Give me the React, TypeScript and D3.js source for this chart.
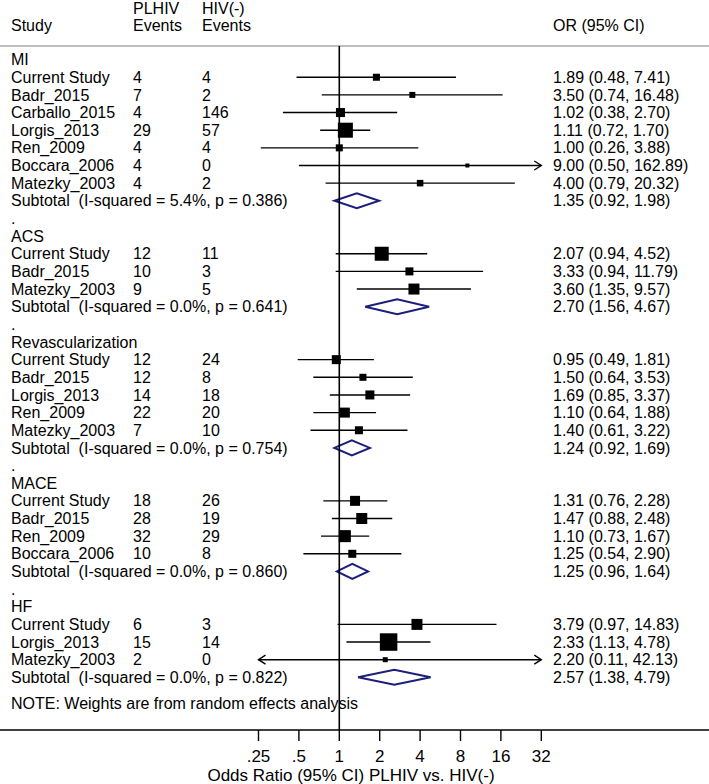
import React from "react";
import * as d3 from "d3";

// ---------- data ----------
const groupNames = ["MI", "ACS", "Revascularization", "MACE", "HF"];
const groupSizes = [7, 3, 5, 4, 3];

const studyNames = [
  "Current Study", "Badr_2015", "Carballo_2015", "Lorgis_2013", "Ren_2009", "Boccara_2006", "Matezky_2003",
  "Current Study", "Badr_2015", "Matezky_2003",
  "Current Study", "Badr_2015", "Lorgis_2013", "Ren_2009", "Matezky_2003",
  "Current Study", "Badr_2015", "Ren_2009", "Boccara_2006",
  "Current Study", "Lorgis_2013", "Matezky_2003",
];
const plhivEvents = [4, 7, 4, 29, 4, 4, 4, 12, 10, 9, 12, 12, 14, 22, 7, 18, 28, 32, 10, 6, 15, 2];
const hivEvents = [4, 2, 146, 57, 4, 0, 2, 11, 3, 5, 24, 8, 18, 20, 10, 26, 19, 29, 8, 3, 14, 0];
const orValues = [1.89, 3.5, 1.02, 1.11, 1.0, 9.0, 4.0, 2.07, 3.33, 3.6, 0.95, 1.5, 1.69, 1.1, 1.4, 1.31, 1.47, 1.1, 1.25, 3.79, 2.33, 2.2];
const ciLower = [0.48, 0.74, 0.38, 0.72, 0.26, 0.5, 0.79, 0.94, 0.94, 1.35, 0.49, 0.64, 0.85, 0.64, 0.61, 0.76, 0.88, 0.73, 0.54, 0.97, 1.13, 0.11];
const ciUpper = [7.41, 16.48, 2.7, 1.7, 3.88, 162.89, 20.32, 4.52, 11.79, 9.57, 1.81, 3.53, 3.37, 1.88, 3.22, 2.28, 2.48, 1.67, 2.9, 14.83, 4.78, 42.13];
const weights = [9.9, 7.2, 16.3, 45.3, 9.9, 3.2, 8.5, 39.4, 12.9, 24.3, 16.3, 9.9, 16.3, 20.1, 12.9, 20.1, 24.3, 29.0, 12.9, 24.3, 61.6, 5.0];

const subI2 = ["5.4%", "0.0%", "0.0%", "0.0%", "0.0%"];
const subP = ["0.386", "0.641", "0.754", "0.860", "0.822"];
const subOr = [1.35, 2.7, 1.24, 1.25, 2.57];
const subLower = [0.92, 1.56, 0.92, 0.96, 1.38];
const subUpper = [1.98, 4.67, 1.69, 1.64, 4.79];

const tickValues = [0.25, 0.5, 1, 2, 4, 8, 16, 32];
const tickLabels = [".25", ".5", "1", "2", "4", "8", "16", "32"];

const axisTitle = "Odds Ratio (95% CI) PLHIV vs. HIV(-)";
const noteText = "NOTE: Weights are from random effects analysis";

// ---------- layout ----------
const W = 709;
const H = 784;
const FONT = "'Liberation Sans', Arial, Helvetica, sans-serif";
const FS = 16;

type Row =
  | { kind: "group"; label: string }
  | { kind: "study"; i: number }
  | { kind: "sub"; g: number }
  | { kind: "dot" };

const rows: Row[] = [];
{
  let k = 0;
  groupNames.forEach((g, gi) => {
    rows.push({ kind: "group", label: g });
    for (let j = 0; j < groupSizes[gi]; j++) rows.push({ kind: "study", i: k++ });
    rows.push({ kind: "sub", g: gi });
    if (gi < groupNames.length - 1) rows.push({ kind: "dot" });
  });
}

const x = d3.scaleLog().base(2).domain([0.25, 32]).range([258.5, 541.3]);
const y = d3.scaleLinear().domain([0, 36]).range([59.6, 695]);
const boxSide = d3.scaleSqrt().domain([0, 100]).range([0, 22.3]);
const fmt = d3.format(".2f");

const colStudy = 11;
const colPl = 133;
const colHiv = 202;
const colOr = 553;
const axisY = 730;
const headerLineY = 46;
const refX = x(1);
const TXT_DY = 5.6;

export default function App() {
  const [xmin, xmax] = x.range();

  return (
    <svg
      width={W}
      height={H}
      style={{ position: "absolute", left: 0, top: 0, background: "#fff" }}
      fontFamily={FONT}
      fontSize={FS}
    >
      <rect x={0} y={0} width={W} height={H} fill="#fff" />
      {/* header */}
      <text x={colStudy} y={31}>Study</text>
      <text x={colPl} y={14}>PLHIV</text>
      <text x={colPl} y={31}>Events</text>
      <text x={colHiv} y={14}>HIV(-)</text>
      <text x={colHiv} y={31}>Events</text>
      <text x={colOr} y={31}>OR (95% CI)</text>
      <line x1={0} x2={W} y1={headerLineY} y2={headerLineY} stroke="#a8a8a8" strokeWidth={1.5} />

      {/* rows */}
      {rows.map((r, ri) => {
        const cy = y(ri);
        if (r.kind === "group")
          return (
            <text key={ri} x={colStudy} y={cy + TXT_DY}>{r.label}</text>
          );
        if (r.kind === "dot")
          return (
            <text key={ri} x={colStudy} y={cy + TXT_DY}>.</text>
          );
        if (r.kind === "sub") {
          const g = r.g;
          const x0 = x(subLower[g]);
          const x1 = x(subUpper[g]);
          const xc = x(subOr[g]);
          const hh = 7.5;
          return (
            <g key={ri}>
              <text x={colStudy} y={cy + TXT_DY} xmlSpace="preserve">
                {`Subtotal  (I-squared = ${subI2[g]}, p = ${subP[g]})`}
              </text>
              <path
                d={`M${x0},${cy} L${xc},${cy - hh} L${x1},${cy} L${xc},${cy + hh} Z`}
                fill="#fff"
                stroke="#1b1f7a"
                strokeWidth={2}
              />
              <text x={colOr} y={cy + TXT_DY}>
                {`${fmt(subOr[g])} (${fmt(subLower[g])}, ${fmt(subUpper[g])})`}
              </text>
            </g>
          );
        }
        const i = r.i;
        const lo = ciLower[i];
        const hi = ciUpper[i];
        const clipLo = lo < 0.25;
        const clipHi = hi > 32;
        const lx = clipLo ? xmin : x(lo);
        const hx = clipHi ? xmax : x(hi);
        const s = boxSide(weights[i]);
        const cx = x(orValues[i]);
        return (
          <g key={ri}>
            <text x={colStudy} y={cy + TXT_DY}>{studyNames[i]}</text>
            <text x={colPl} y={cy + TXT_DY}>{plhivEvents[i]}</text>
            <text x={colHiv} y={cy + TXT_DY}>{hivEvents[i]}</text>
            <line x1={lx} x2={hx} y1={cy} y2={cy} stroke="#000" strokeWidth={1.4} />
            {clipHi && (
              <path d={`M${hx - 7},${cy - 4.5} L${hx},${cy} L${hx - 7},${cy + 4.5}`} fill="none" stroke="#000" strokeWidth={1.4} />
            )}
            {clipLo && (
              <path d={`M${lx + 7},${cy - 4.5} L${lx},${cy} L${lx + 7},${cy + 4.5}`} fill="none" stroke="#000" strokeWidth={1.4} />
            )}
            <rect x={cx - s / 2} y={cy - s / 2} width={s} height={s} fill="#000" />
            <text x={colOr} y={cy + TXT_DY}>
              {`${fmt(orValues[i])} (${fmt(lo)}, ${fmt(hi)})`}
            </text>
          </g>
        );
      })}

      <text x={colStudy} y={y(36) + 8 + TXT_DY}>{noteText}</text>

      {/* null line */}
      <line x1={refX} x2={refX} y1={headerLineY} y2={axisY} stroke="#000" strokeWidth={1.6} />

      {/* axis */}
      <line x1={0} x2={W} y1={axisY} y2={axisY} stroke="#000" strokeWidth={1.5} />
      {tickValues.map((t, k) => (
        <g key={t}>
          <line x1={x(t)} x2={x(t)} y1={axisY} y2={axisY + 11} stroke="#000" strokeWidth={1.4} />
          <text x={x(t)} y={axisY + 32} textAnchor="middle" fontSize={17}>{tickLabels[k]}</text>
        </g>
      ))}
      <text x={351} y={axisY + 51} textAnchor="middle" fontSize={17}>{axisTitle}</text>
    </svg>
  );
}
